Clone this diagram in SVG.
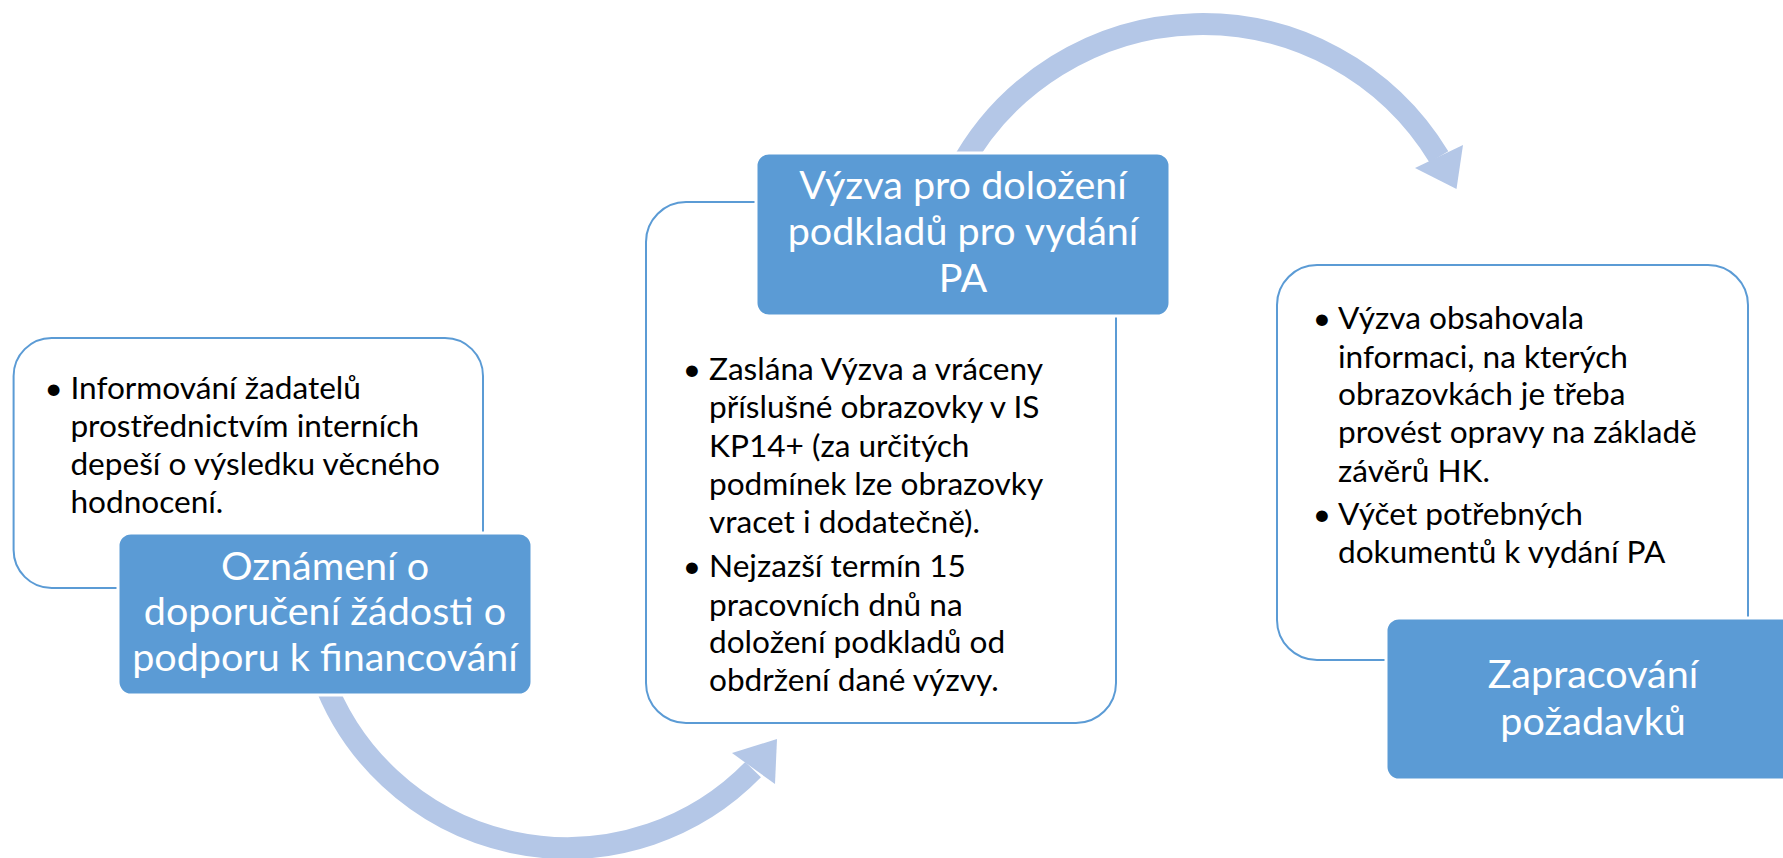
<svg xmlns="http://www.w3.org/2000/svg" width="1783" height="858" viewBox="0 0 1783 858">
  <style>
    .arrow { fill: none; stroke: #B4C7E7; stroke-width: 22; stroke-linecap: butt; }
    .head { fill: #B4C7E7; stroke: none; }
    .card { fill: #FFFFFF; stroke: #5B9BD5; stroke-width: 2; }
    .title { fill: #5B9BD5; stroke: #FFFFFF; stroke-width: 3; }
    .body { font-family: Lato, "Liberation Sans", sans-serif; font-size: 31.6px; fill: #000000; }
    .bul { font-family: Lato, "Liberation Sans", sans-serif; font-size: 31.6px; fill: #000000; text-anchor: middle; }
    .head-t { font-family: Lato, "Liberation Sans", sans-serif; font-size: 39.5px; fill: #FFFFFF; text-anchor: middle; }
  </style>
  <rect width="1783" height="858" fill="#FFFFFF"/>
  <g id="connectors">
    <path class="arrow" d="M 322.7 676.9 A 260 260 0 0 0 753.1 769.6"/>
    <polygon class="head" points="732,753 777,739 775,784"/>
    <path class="arrow" d="M 958.5 170.7 A 276.5 276.5 0 0 1 1438.9 156.9"/>
    <polygon class="head" points="1415,168 1463,145 1456.5,189"/>
  </g>
  <g id="node1">
    <rect class="card" x="13.6" y="338" width="469.4" height="250" rx="38" ry="38"/>
    <text class="bul" x="53.6" y="399">•</text>
    <text class="body" x="70.4" y="399">Informování žadatelů</text>
    <text class="body" x="70.4" y="437">prostřednictvím interních</text>
    <text class="body" x="70.4" y="475">depeší o výsledku věcného</text>
    <text class="body" x="70.4" y="513">hodnocení.</text>
    <rect class="title" x="118" y="533" width="414" height="162" rx="13" ry="13"/>
    <text class="head-t" x="325" y="580">Oznámení o</text>
    <text class="head-t" x="325" y="625">doporučení žádosti o</text>
    <text class="head-t" x="325" y="671">podporu k financování</text>
  </g>
  <g id="node2">
    <rect class="card" x="646" y="202" width="470" height="521" rx="40" ry="40"/>
    <rect class="title" x="756" y="153" width="414" height="163" rx="13" ry="13"/>
    <text class="head-t" x="963" y="199">Výzva pro doložení</text>
    <text class="head-t" x="963" y="245">podkladů pro vydání</text>
    <text class="head-t" x="963" y="292">PA</text>
    <text class="bul" x="692" y="380.3">•</text>
    <text class="body" x="709" y="380.3">Zaslána Výzva a vráceny</text>
    <text class="body" x="709" y="418.2">příslušné obrazovky v IS</text>
    <text class="body" x="709" y="456.5">KP14+ (za určitých</text>
    <text class="body" x="709" y="494.5">podmínek lze obrazovky</text>
    <text class="body" x="709" y="533">vracet i dodatečně).</text>
    <text class="bul" x="692" y="577.4">•</text>
    <text class="body" x="709" y="577.4">Nejzazší termín 15</text>
    <text class="body" x="709" y="615.7">pracovních dnů na</text>
    <text class="body" x="709" y="652.8">doložení podkladů od</text>
    <text class="body" x="709" y="691.1">obdržení dané výzvy.</text>
  </g>
  <g id="node3">
    <rect class="card" x="1277" y="265" width="471" height="395" rx="40" ry="40"/>
    <text class="bul" x="1322" y="329">•</text>
    <text class="body" x="1338" y="329">Výzva obsahovala</text>
    <text class="body" x="1338" y="367.5">informaci, na kterých</text>
    <text class="body" x="1338" y="405.4">obrazovkách je třeba</text>
    <text class="body" x="1338" y="443">provést opravy na základě</text>
    <text class="body" x="1338" y="481.5">závěrů HK.</text>
    <text class="bul" x="1322" y="524.6">•</text>
    <text class="body" x="1338" y="524.6">Výčet potřebných</text>
    <text class="body" x="1338" y="563">dokumentů k vydání PA</text>
    <rect class="title" x="1386" y="618" width="414" height="162" rx="13" ry="13"/>
    <text class="head-t" x="1593" y="688">Zapracování</text>
    <text class="head-t" x="1593" y="735">požadavků</text>
  </g>
</svg>
